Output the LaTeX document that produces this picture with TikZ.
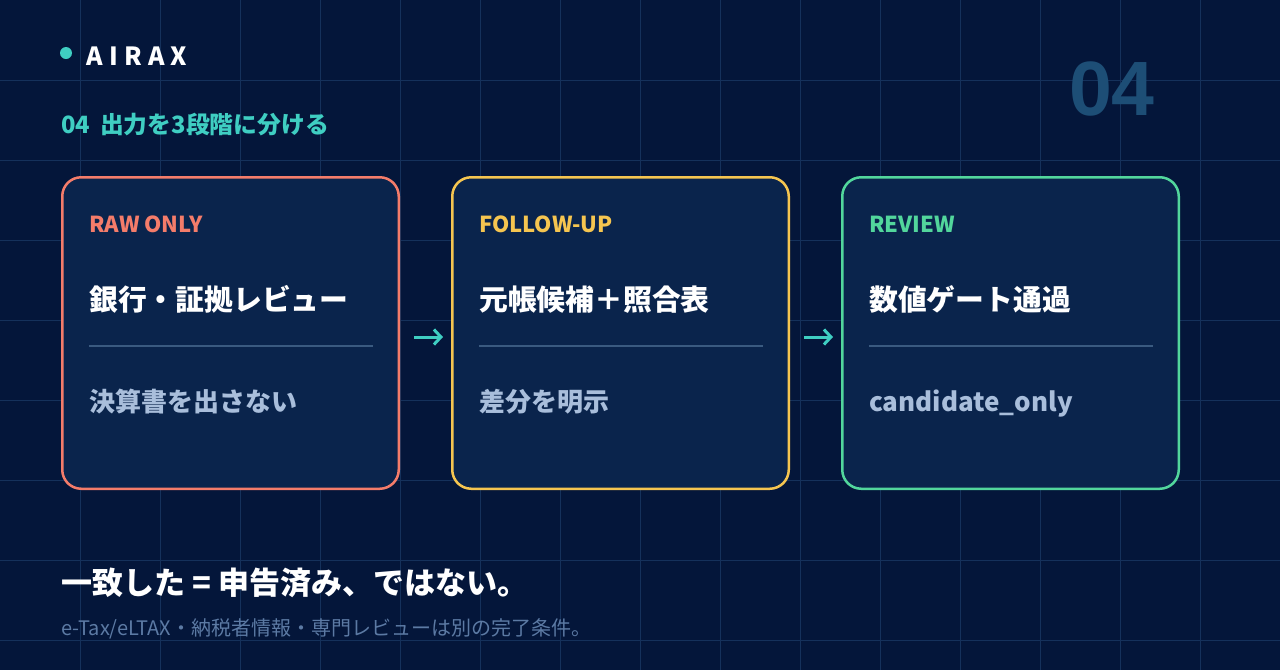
\documentclass[tikz,border=0pt]{standalone}
\usepackage{fontspec}
\setmainfont{Noto Sans CJK JP}
\newfontfamily\numfont{Liberation Sans}
\usetikzlibrary{arrows.meta}
\definecolor{bgc}{HTML}{04163A}
\definecolor{gridc}{HTML}{15315B}
\definecolor{cardc}{HTML}{0A244C}
\definecolor{coral}{HTML}{F47C6A}
\definecolor{amber}{HTML}{F5C550}
\definecolor{mint}{HTML}{52D69C}
\definecolor{tealc}{HTML}{3FCEC2}
\definecolor{subc}{HTML}{A9BEDB}
\definecolor{divc}{HTML}{3A5A80}
\definecolor{numc}{HTML}{1D4E76}
\definecolor{footc}{HTML}{5C7AA4}
\tikzset{
  card/.style={rectangle, rounded corners=19pt, line width=2.5pt, fill=cardc,
    minimum width=336.5pt, minimum height=311.5pt, inner sep=0pt},
  txt/.style={inner sep=0pt, anchor=base west},
  lab/.style={txt, font=\bfseries\fontsize{22}{24}\selectfont},
  ttl/.style={txt, text=white, font=\bfseries\fontsize{28.8}{30}\selectfont},
  sub/.style={txt, text=subc, font=\bfseries\fontsize{26}{28}\selectfont},
  divline/.style={draw=divc, line width=2pt},
  arr/.style={draw=tealc, line width=3pt, shorten <=14pt, shorten >=8pt,
    -{Straight Barb[length=7pt,width=15pt]}}
}
\begin{document}
\begin{tikzpicture}[x=1pt,y=-1pt]
\fill[bgc] (0,0) rectangle (1280,670);
\useasboundingbox (0,0) rectangle (1280,670);
\foreach \i in {1,...,15} \draw[gridc, line width=1pt] (\i*80,0) -- (\i*80,670);
\foreach \j in {1,...,8} \draw[gridc, line width=1pt] (0,\j*80) -- (1280,\j*80);

% header
\node[circle, fill=tealc, minimum size=12pt, inner sep=0pt] (dot) at (66,53) {};
\node[txt, text=white, font=\bfseries\fontsize{25}{27}\selectfont] (logo) at (86,65)
  {A\kern6.3pt I\kern6.3pt R\kern6.3pt A\kern6.3pt X};
\node[txt, text=tealc, font=\bfseries\fontsize{23.8}{25}\selectfont] (head) at (61,133)
  {04\hspace{10pt}出力を3段階に分ける};
\node[inner sep=0pt, anchor=base east, text=numc, font=\numfont\bfseries\fontsize{77}{77}\selectfont] (num) at (1155,115) {04};

% cards
\node[card, draw=coral] (b1) at (230.5,333) {};
\node[card, draw=amber] (b2) at (620.5,333) {};
\node[card, draw=mint] (b3) at (1010.5,333) {};

\node[lab, text=coral] (l1) at (89,232) {RAW ONLY};
\node[ttl] (t1) at (89,310) {銀行・証拠レビュー};
\draw[divline] (89,346) -- (373,346);
\node[sub] (s1) at (89,411) {決算書を出さない};

\node[lab, text=amber] (l2) at (479,232) {FOLLOW-UP};
\node[ttl] (t2) at (479,310) {元帳候補＋照合表};
\draw[divline] (479,346) -- (763,346);
\node[sub] (s2) at (479,411) {差分を明示};

\node[lab, text=mint] (l3) at (869,232) {REVIEW};
\node[ttl] (t3) at (869,310) {数値ゲート通過};
\draw[divline] (869,346) -- (1153,346);
\node[sub] (s3) at (869,411) {candidate\_only};

\draw[arr] ([yshift=-4pt]b1.east) -- ([yshift=-4pt]b2.west);
\draw[arr] ([yshift=-4pt]b2.east) -- ([yshift=-4pt]b3.west);

% footer
\node[txt, text=white, font=\bfseries\fontsize{31}{33}\selectfont] (foot1) at (61,594)
  {一致した = 申告済み、ではない。};
\node[txt, text=footc, font=\fontsize{20}{22}\selectfont] (foot2) at (61,635)
  {e-Tax/eLTAX・納税者情報・専門レビューは別の完了条件。};
\end{tikzpicture}
\end{document}
